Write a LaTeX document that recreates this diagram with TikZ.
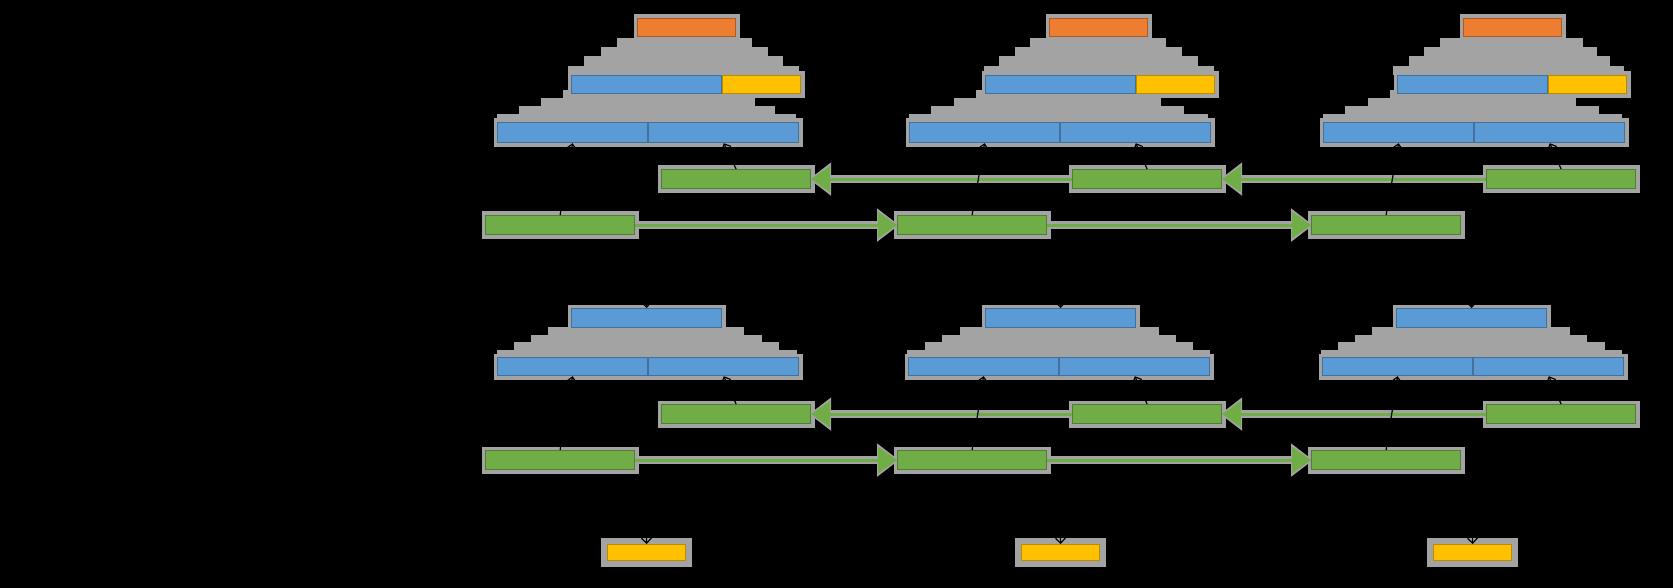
\documentclass[tikz,border=0pt]{standalone}
\usepackage{tikz}
\usetikzlibrary{arrows.meta, positioning, backgrounds}
\usepackage{xcolor}
\definecolor{boxorange}{RGB}{237,125,49}
\definecolor{boxorangedark}{RGB}{174,90,33}
\definecolor{boxblue}{RGB}{91,155,213}
\definecolor{boxbluedark}{RGB}{65,113,156}
\definecolor{boxyellow}{RGB}{255,192,0}
\definecolor{boxyellowdark}{RGB}{188,140,0}
\definecolor{boxgreen}{RGB}{112,173,71}
\definecolor{boxgreendark}{RGB}{80,126,50}
\definecolor{halogray}{RGB}{163,163,163}
% four gray steps: top left, top right, bottom left, bottom right, top y, bottom y
\newcommand{\stairs}[6]{%
  \fill[halogray] (#1,#5) rectangle (#2,{#5+(#6-#5)/4});
  \fill[halogray] ({#1+(#3-#1)/3},{#5+(#6-#5)/4}) rectangle ({#2+(#4-#2)/3},{#5+(#6-#5)/2});
  \fill[halogray] ({#1+2*(#3-#1)/3},{#5+(#6-#5)/2}) rectangle ({#2+2*(#4-#2)/3},{#5+3*(#6-#5)/4});
  \fill[halogray] (#3,{#5+3*(#6-#5)/4}) rectangle (#4,#6);
}

\begin{document}
\begin{tikzpicture}[x=1pt, y=-1pt,
  box/.style={draw, line width=1.2pt, anchor=north west, inner sep=0pt, minimum height=18pt},
  orangebox/.style={box, fill=boxorange, draw=boxorangedark, minimum width=98pt},
  bluebox/.style={box, fill=boxblue, draw=boxbluedark, minimum width=150pt},
  yellowbox/.style={box, fill=boxyellow, draw=boxyellowdark, minimum width=78pt},
  greenbox/.style={box, fill=boxgreen, draw=boxgreendark, minimum width=149pt, minimum height=19pt},
  rim/.style={draw=halogray, line width=7pt},
  link/.style={draw=boxgreen, line width=3pt, -{Triangle[length=19pt, width=26pt]}},
  linkhalo/.style={draw=halogray, line width=8pt, -{Triangle[length=22pt, width=32pt]}, shorten >=-2pt},
  feed/.style={draw=black, line width=1.2pt, -{Straight Barb[length=5pt, width=10pt]}}
]
% upper part
\node[orangebox] (or1) at (637,18) {};
\node[orangebox] (or2) at (1049,18) {};
\node[orangebox] (or3) at (1463,18) {};
\node[bluebox] (bu1) at (571,75) {};
\node[yellowbox, right=0pt of bu1] (ye1) {};
\node[bluebox] (bu2) at (985,75) {};
\node[yellowbox, right=0pt of bu2] (ye2) {};
\node[bluebox] (bu3) at (1397,75) {};
\node[yellowbox, right=0pt of bu3] (ye3) {};
\node[bluebox, minimum height=20pt] (lf1a) at (497,122) {};
\node[bluebox, minimum height=20pt, right=0pt of lf1a] (lf1b) {};
\node[bluebox, minimum height=20pt] (lf2a) at (909,122) {};
\node[bluebox, minimum height=20pt, right=0pt of lf2a] (lf2b) {};
\node[bluebox, minimum height=20pt] (lf3a) at (1323,122) {};
\node[bluebox, minimum height=20pt, right=0pt of lf3a] (lf3b) {};
\node[greenbox] (gu1) at (661,169) {};
\node[greenbox] (gu2) at (1072,169) {};
\node[greenbox] (gu3) at (1486,169) {};
\node[greenbox] (gd1) at (485,215) {};
\node[greenbox] (gd2) at (897,215) {};
\node[greenbox] (gd3) at (1311,215) {};

% lower part
\node[bluebox, minimum height=19pt] (mb1) at (571,308) {};
\node[bluebox, minimum height=19pt] (mb2) at (985,308) {};
\node[bluebox, minimum height=19pt] (mb3) at (1396,308) {};
\node[bluebox] (mf1a) at (497,357) {};
\node[bluebox, right=0pt of mf1a] (mf1b) {};
\node[bluebox] (mf2a) at (908,357) {};
\node[bluebox, right=0pt of mf2a] (mf2b) {};
\node[bluebox] (mf3a) at (1322,357) {};
\node[bluebox, right=0pt of mf3a] (mf3b) {};
\node[greenbox] (mu1) at (661,404) {};
\node[greenbox] (mu2) at (1072,404) {};
\node[greenbox] (mu3) at (1486,404) {};
\node[greenbox] (md1) at (485,450) {};
\node[greenbox] (md2) at (897,450) {};
\node[greenbox] (md3) at (1311,450) {};
\node[yellowbox, minimum height=16pt] (yo1) at (607,544) {};
\node[yellowbox, minimum height=16pt] (yo2) at (1021,544) {};
\node[yellowbox, minimum height=16pt] (yo3) at (1433,544) {};

% green links
\draw[link] (gu2.west) -- (gu1.east);
\draw[link] (gu3.west) -- (gu2.east);
\draw[link] (gd1.east) -- (gd2.west);
\draw[link] (gd2.east) -- (gd3.west);
\draw[link] (mu2.west) -- (mu1.east);
\draw[link] (mu3.west) -- (mu2.east);
\draw[link] (md1.east) -- (md2.west);
\draw[link] (md2.east) -- (md3.west);

% black feeds
\draw[feed] (gu1.north) -- (lf1b.south);
\draw[feed] (gd1.north) -- (lf1a.south);
\draw[feed] (gu2.north) -- (lf2b.south);
\draw[feed] (gd2.north) -- (lf2a.south);
\draw[feed] (gu3.north) -- (lf3b.south);
\draw[feed] (gd3.north) -- (lf3a.south);
\draw[feed] (mu1.north) -- (mf1b.south);
\draw[feed] (md1.north) -- (mf1a.south);
\draw[feed] (mu2.north) -- (mf2b.south);
\draw[feed] (md2.north) -- (mf2a.south);
\draw[feed] (mu3.north) -- (mf3b.south);
\draw[feed] (md3.north) -- (mf3a.south);
\coordinate (in1) at (646,282);
\coordinate (in2) at (1060,282);
\coordinate (in3) at (1471,282);
\draw[feed] (in1) -- (mb1.north);
\draw[feed] (in2) -- (mb2.north);
\draw[feed] (in3) -- (mb3.north);
\coordinate (out1) at (646,518);
\coordinate (out2) at (1060,518);
\coordinate (out3) at (1472,518);
\draw[feed] (out1) -- (yo1.north);
\draw[feed] (out2) -- (yo2.north);
\draw[feed] (out3) -- (yo3.north);

\begin{scope}[on background layer]
  \fill[black] (0,0) rectangle (1673,588);
  \stairs{617}{752}{568}{799}{38}{75}
  \stairs{1030}{1166}{984}{1214}{38}{75}
  \stairs{1440}{1583}{1393}{1624}{38}{75}
  \stairs{563}{734}{497}{796}{90}{122}
  \stairs{976}{1137}{909}{1208}{90}{122}
  \stairs{1390}{1553}{1323}{1622}{90}{122}
  \stairs{548}{744}{497}{797}{327}{357}
  \stairs{960}{1159}{907}{1210}{327}{357}
  \stairs{1372}{1570}{1321}{1622}{327}{357}
  % rims
  \draw[rim] (or1.north west) rectangle (or1.south east);
  \draw[rim] (or2.north west) rectangle (or2.south east);
  \draw[rim] (or3.north west) rectangle (or3.south east);
  \draw[rim] (bu1.north west) rectangle (ye1.south east);
  \draw[rim] (bu2.north west) rectangle (ye2.south east);
  \draw[rim] (bu3.north west) rectangle (ye3.south east);
  \draw[rim] (lf1a.north west) rectangle (lf1b.south east);
  \draw[rim] (lf2a.north west) rectangle (lf2b.south east);
  \draw[rim] (lf3a.north west) rectangle (lf3b.south east);
  \draw[rim] (mb1.north west) rectangle (mb1.south east);
  \draw[rim] (mb2.north west) rectangle (mb2.south east);
  \draw[rim] (mb3.north west) rectangle (mb3.south east);
  \draw[rim] (mf1a.north west) rectangle (mf1b.south east);
  \draw[rim] (mf2a.north west) rectangle (mf2b.south east);
  \draw[rim] (mf3a.north west) rectangle (mf3b.south east);
  \draw[rim] (gu1.north west) rectangle (gu1.south east);
  \draw[rim] (gu2.north west) rectangle (gu2.south east);
  \draw[rim] (gu3.north west) rectangle (gu3.south east);
  \draw[rim] (gd1.north west) rectangle (gd1.south east);
  \draw[rim] (gd2.north west) rectangle (gd2.south east);
  \draw[rim] (gd3.north west) rectangle (gd3.south east);
  \draw[rim] (mu1.north west) rectangle (mu1.south east);
  \draw[rim] (mu2.north west) rectangle (mu2.south east);
  \draw[rim] (mu3.north west) rectangle (mu3.south east);
  \draw[rim] (md1.north west) rectangle (md1.south east);
  \draw[rim] (md2.north west) rectangle (md2.south east);
  \draw[rim] (md3.north west) rectangle (md3.south east);
  \draw[rim, line width=12pt] (yo1.north west) rectangle (yo1.south east);
  \draw[rim, line width=12pt] (yo2.north west) rectangle (yo2.south east);
  \draw[rim, line width=12pt] (yo3.north west) rectangle (yo3.south east);
  % link halos
  \draw[linkhalo] (gu2.west) -- (gu1.east);
  \draw[linkhalo] (gu3.west) -- (gu2.east);
  \draw[linkhalo] (gd1.east) -- (gd2.west);
  \draw[linkhalo] (gd2.east) -- (gd3.west);
  \draw[linkhalo] (mu2.west) -- (mu1.east);
  \draw[linkhalo] (mu3.west) -- (mu2.east);
  \draw[linkhalo] (md1.east) -- (md2.west);
  \draw[linkhalo] (md2.east) -- (md3.west);
\end{scope}
\end{tikzpicture}
\end{document}
